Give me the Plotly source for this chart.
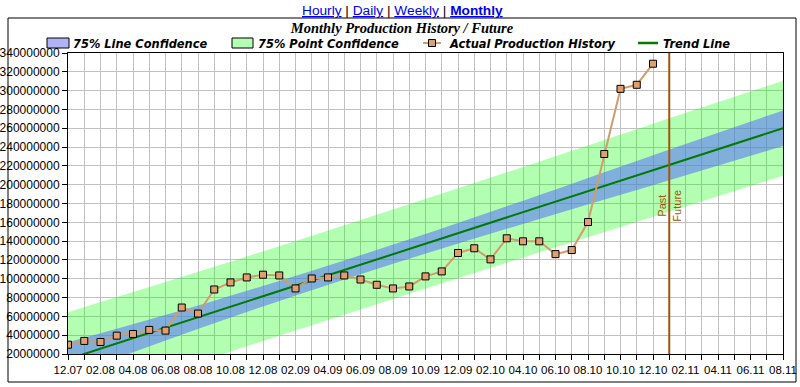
import plotly.graph_objects as go

# ---------------- data ----------------
month_labels = [
    "12.07",
    "01.08", "02.08", "03.08", "04.08", "05.08", "06.08", "07.08", "08.08", "09.08", "10.08", "11.08", "12.08",
    "01.09", "02.09", "03.09", "04.09", "05.09", "06.09", "07.09", "08.09", "09.09", "10.09", "11.09", "12.09",
    "01.10", "02.10", "03.10", "04.10", "05.10", "06.10", "07.10", "08.10", "09.10", "10.10", "11.10", "12.10",
    "01.11", "02.11", "03.11", "04.11", "05.11", "06.11", "07.11", "08.11",
]
tick_text = [lab if i % 2 == 0 else "" for i, lab in enumerate(month_labels)]

production_months = month_labels[:37]
production = [
    29.9e6, 33.9e6, 32.8e6, 39.5e6, 41.3e6, 45.6e6, 44.9e6, 69.4e6, 63.0e6, 88.6e6,
    96.1e6, 101.4e6, 104.3e6, 103.5e6, 89.7e6, 100.3e6, 101.4e6, 103.5e6, 99.2e6, 93.6e6,
    89.7e6, 91.8e6, 102.5e6, 107.8e6, 127.4e6, 132.4e6, 120.6e6, 143.0e6, 139.8e6, 139.8e6,
    126.2e6, 130.5e6, 160.3e6, 232.6e6, 301.9e6, 306.2e6, 328.6e6,
]

trend_months = ["12.07", "08.11"]
trend_values = [14.5e6, 260.0e6]

band_months = ["12.07", "09.08", "06.09", "03.10", "12.10", "08.11"]
line_conf_upper = [32.5e6, 76.7e6, 124.9e6, 177.1e6, 231.4e6, 279.0e6]
line_conf_lower = [-3.5e6, 52.7e6, 104.9e6, 153.1e6, 199.4e6, 241.0e6]
point_conf_upper = [64.5e6, 112.7e6, 162.4e6, 213.1e6, 264.9e6, 310.5e6]
point_conf_lower = [-35.5e6, 16.7e6, 67.4e6, 117.1e6, 165.9e6, 209.5e6]

divider_month = "01.11"
y_ticks = [20e6 * k for k in range(1, 18)]

legend_names = ["75% Line Confidence", "75% Point Confidence", "Actual Production History", "Trend Line"]

# ---------------- styles ----------------
GREEN_FILL = "rgba(0,255,0,0.30)"
BLUE_FILL = "rgba(90,110,255,0.55)"
BROWN = "#a0560a"
TAN = "#d39a6e"
TREND_GREEN = "#007a00"
LEGEND_FONT = dict(family="DejaVu Sans Condensed, Liberation Sans Narrow, sans-serif",
                   size=12.7, color="black", weight="bold", style="italic")

# plot area geometry in pixels (for placing items outside the plot)
L, R, T, B = 68, 783, 53, 354


def px(x):
    return (x - L) / (R - L)


def py(y):
    return (B - y) / (B - T)


fig = go.Figure()

# point confidence band (green)
fig.add_trace(go.Scatter(x=band_months, y=point_conf_upper, mode="lines",
                         line=dict(width=0, shape="spline"), showlegend=False, hoverinfo="skip"))
fig.add_trace(go.Scatter(x=band_months, y=point_conf_lower, mode="lines", fill="tonexty",
                         fillcolor=GREEN_FILL, line=dict(width=0, shape="spline"),
                         name=legend_names[1], showlegend=False, hoverinfo="skip"))
# line confidence band (blue)
fig.add_trace(go.Scatter(x=band_months, y=line_conf_upper, mode="lines",
                         line=dict(width=0, shape="spline"), showlegend=False, hoverinfo="skip"))
fig.add_trace(go.Scatter(x=band_months, y=line_conf_lower, mode="lines", fill="tonexty",
                         fillcolor=BLUE_FILL, line=dict(width=0, shape="spline"),
                         name=legend_names[0], showlegend=False, hoverinfo="skip"))
# trend line
fig.add_trace(go.Scatter(x=trend_months, y=trend_values, mode="lines",
                         line=dict(color=TREND_GREEN, width=2), name=legend_names[3], showlegend=False))
# actual production
fig.add_trace(go.Scatter(x=production_months, y=production, mode="lines+markers",
                         line=dict(color=TAN, width=2),
                         marker=dict(symbol="square", size=7, color="#dfa070",
                                     line=dict(color="black", width=1)),
                         name=legend_names[2], showlegend=False))

# past / future divider (category index of the divider month)
div_idx = month_labels.index(divider_month)
fig.add_shape(type="line", xref="x", yref="paper", x0=div_idx, x1=div_idx, y0=0, y1=1,
              line=dict(color=BROWN, width=2), layer="above")
fig.add_annotation(x=div_idx, y=178e6, text="Past", textangle=-90, showarrow=False,
                   xshift=-7, yanchor="middle",
                   font=dict(family="Liberation Sans, Arial, sans-serif", size=11, color=BROWN))
fig.add_annotation(x=div_idx, y=178e6, text="Future", textangle=-90, showarrow=False,
                   xshift=8, yanchor="middle",
                   font=dict(family="Liberation Sans, Arial, sans-serif", size=11, color=BROWN))

# ---------------- legend (drawn above the plot) ----------------
ly = 43
fig.add_shape(type="rect", xref="paper", yref="paper", x0=px(47), x1=px(69), y0=py(48), y1=py(38),
              fillcolor="#b0b4f4", line=dict(color="black", width=1))
fig.add_shape(type="rect", xref="paper", yref="paper", x0=px(232), x1=px(253), y0=py(48), y1=py(38),
              fillcolor="#b3ffb3", line=dict(color="black", width=1))
fig.add_shape(type="line", xref="paper", yref="paper", x0=px(423), x1=px(441), y0=py(ly), y1=py(ly),
              line=dict(color=TAN, width=2))
fig.add_shape(type="rect", xref="paper", yref="paper", x0=px(428.5), x1=px(435.5), y0=py(46.5), y1=py(39.5),
              fillcolor="#dfa070", line=dict(color="black", width=1))
fig.add_shape(type="line", xref="paper", yref="paper", x0=px(638), x1=px(658), y0=py(ly), y1=py(ly),
              line=dict(color=TREND_GREEN, width=2.5))
for name, tx in zip(legend_names, [71, 256, 446.5, 661]):
    fig.add_annotation(xref="paper", yref="paper", x=px(tx), y=py(ly), text=name, showarrow=False,
                       xanchor="left", yanchor="middle", font=LEGEND_FONT)

# navigation links
fig.add_annotation(xref="paper", yref="paper", x=px(402), y=py(11), showarrow=False,
                   xanchor="center", yanchor="middle",
                   text=("<span style='color:#0000ee'><u>Hourly</u></span> | "
                         "<span style='color:#0000ee'><u>Daily</u></span> | "
                         "<span style='color:#0000ee'><u>Weekly</u></span> | "
                         "<span style='color:#0000ee'><b><u>Monthly</u></b></span>"),
                   font=dict(family="Liberation Sans, Arial, sans-serif", size=13.7, color="black"))

# outer frame
fig.add_shape(type="rect", xref="paper", yref="paper", x0=px(8), x1=px(796), y0=py(382), y1=py(18),
              line=dict(color="black", width=1), fillcolor="rgba(0,0,0,0)")

fig.update_layout(
    width=800, height=387,
    margin=dict(l=L, r=800 - R, t=T, b=387 - B, autoexpand=False),
    paper_bgcolor="white", plot_bgcolor="white",
    showlegend=False,
    title=dict(text="Monthly Production History / Future", x=0.5025, xref="container", xanchor="center",
               y=1 - 28 / 387, yref="container", yanchor="middle",
               font=dict(family="Liberation Serif, Times New Roman, serif", size=14.5,
                         color="black", weight="bold", style="italic")),
    xaxis=dict(type="category", categoryorder="array", categoryarray=month_labels,
               range=[0, len(month_labels) - 1], automargin=False,
               tickmode="array", tickvals=month_labels, ticktext=tick_text,
               ticks="outside", ticklen=5, tickcolor="black",
               showgrid=True, gridcolor="#c0c0c0", gridwidth=1,
               showline=True, linecolor="black", linewidth=1, mirror=True,
               tickfont=dict(family="Liberation Sans, Arial, sans-serif", size=11.5, color="black"),
               zeroline=False, fixedrange=True),
    yaxis=dict(range=[20e6, 340e6], tickmode="array", tickvals=y_ticks, automargin=False,
               ticktext=[str(int(v)) for v in y_ticks],
               ticks="outside", ticklen=5, tickcolor="black",
               showgrid=True, gridcolor="#c0c0c0", gridwidth=1,
               showline=True, linecolor="black", linewidth=1, mirror=True,
               tickfont=dict(family="Liberation Sans, Arial, sans-serif", size=12, color="black"),
               zeroline=False, fixedrange=True),
)

fig.write_html("out.html", config={"displayModeBar": False},
               post_script="document.body.style.margin='0';document.body.style.padding='0';")
